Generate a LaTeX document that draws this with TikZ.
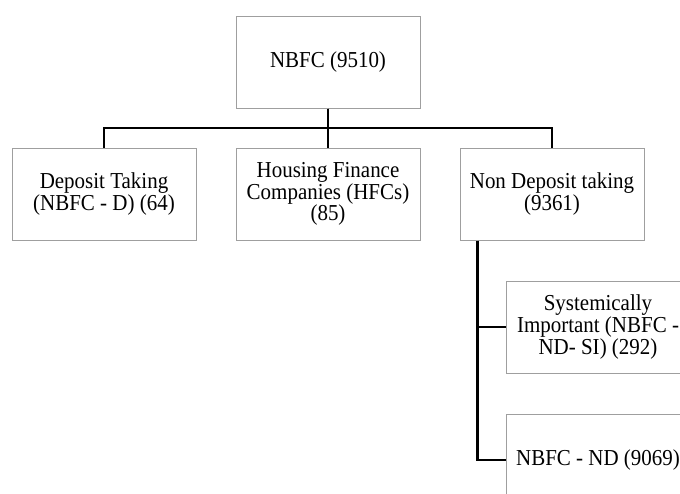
\documentclass[tikz,border=0pt]{standalone}
\usepackage{fontspec}
\setmainfont{Liberation Serif}[FakeStretch=0.92]
\usetikzlibrary{positioning,calc}
\tikzset{
    orgbox/.style={
        rectangle,                % caja simple sin esquinas redondeadas
        draw=gray!75,             % borde gris claro
        line width=1pt,
        fill=white,
        minimum width=184pt,      % todas las cajas con el mismo ancho
        minimum height=92pt,
        inner sep=4pt,
        align=center,
        font=\fontsize{22.8}{20.3}\selectfont
    },
    orgline/.style={
        draw=black,
        line width=2.3pt          % conectores negros gruesos
    }
}
\begin{document}
\begin{tikzpicture}[node distance=39pt]
			\useasboundingbox (0pt,0pt) rectangle (680pt,-493pt);
			\node[orgbox] (nbfc) at (328pt,-62pt) {NBFC (9510)};
			\node[orgbox, below=39pt of nbfc] (hfc) {Housing Finance\\Companies (HFCs)\\(85)};
			\node[orgbox, left=of hfc] (dep) {Deposit Taking\\(NBFC - D) (64)};
			\node[orgbox, right=of hfc] (nondep) {Non Deposit taking\\(9361)};
			\node[orgbox, below=40pt of nondep.south west, anchor=north west, xshift=46pt] (si) {Systemically\\Important (NBFC -\\ND- SI) (292)};
			\node[orgbox, below=40pt of si] (nd) {NBFC - ND (9069)};

			\coordinate (trunk) at ([xshift=18pt]nondep.south west);

			\draw[orgline] (nbfc.south) -- ++(0,-19.5pt) -| (dep.north);
			\draw[orgline] (nbfc.south) -- (hfc.north);
			\draw[orgline] (nbfc.south) -- ++(0,-19.5pt) -| (nondep.north);
			\draw[orgline] (trunk) |- (si.west);
			\draw[orgline] (trunk) |- (nd.west);
		\end{tikzpicture}
\end{document}
